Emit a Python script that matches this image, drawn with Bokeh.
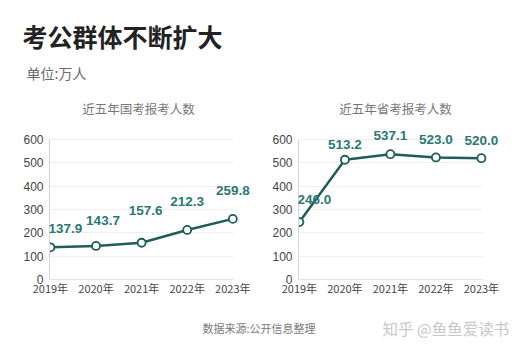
from bokeh.plotting import figure
from bokeh.models import Range1d, FixedTicker, Label, LabelSet, ColumnDataSource
from bokeh.core.properties import value
from bokeh.layouts import column, row
from bokeh.embed import file_html
from bokeh.resources import INLINE

# ---- data ----
years = [2019, 2020, 2021, 2022, 2023]
year_labels = ["2019年", "2020年", "2021年", "2022年", "2023年"]
national = [137.9, 143.7, 157.6, 212.3, 259.8]
provincial = [246.0, 513.2, 537.1, 523.0, 520.0]
y_ticks = [0, 100, 200, 300, 400, 500, 600]

title_text = "考公群体不断扩大"
unit_text = "单位:万人"
left_title = "近五年国考报考人数"
right_title = "近五年省考报考人数"
source_text = "数据来源:公开信息整理"
mark_text = "知乎 @鱼鱼爱读书"

CJK = "Noto Sans CJK SC"
NUM = "Liberation Sans"
LINE = "#1e5d5a"
LAB = "#2b7875"

W = 525
HEADER_H = 95
CHART_H = 205
FOOTER_H = 53
PX_PER_UNIT = 140 / 600.0


def blank(h):
    p = figure(width=W, height=h, x_range=Range1d(0, W), y_range=Range1d(h, 0),
               x_axis_location=None, y_axis_location=None, toolbar_location=None,
               output_backend="svg", min_border=0)
    p.outline_line_color = None
    p.grid.grid_line_color = None
    p.background_fill_color = "white"
    p.border_fill_color = "white"
    return p


header = blank(HEADER_H)
header.add_layout(Label(x=22, y=35, text=title_text, text_font=CJK, text_font_size="25px",
                        text_font_style="bold", text_color="#222222", text_baseline="middle"))
header.add_layout(Label(x=26, y=72, text=unit_text, text_font=CJK, text_font_size="14px",
                        text_color="#6a6a6a", text_baseline="middle"))


def chart(values, sub, width, bl, frame_w, px_per_year, dx, dy, sub_dx):
    top_pad, frame_h = 5, 179
    x0 = years[0] - 0.02
    x1 = x0 + frame_w / px_per_year
    p = figure(width=width, height=CHART_H, x_range=Range1d(x0, x1),
               y_range=Range1d(0, frame_h / PX_PER_UNIT), toolbar_location=None,
               output_backend="svg", min_border_left=bl, min_border_right=width - bl - frame_w,
               min_border_top=top_pad, min_border_bottom=CHART_H - top_pad - frame_h)
    p.outline_line_color = None
    p.background_fill_color = "white"
    p.border_fill_color = "white"
    p.xgrid.grid_line_color = None
    p.ygrid.grid_line_color = "#efefef"
    p.ygrid.ticker = FixedTicker(ticks=y_ticks)
    p.ygrid.cross_bounds = (x0, years[-1] + 0.02)

    p.yaxis.ticker = FixedTicker(ticks=y_ticks)
    p.yaxis.bounds = (0, 600)
    p.yaxis.axis_line_color = "#d4d4d4"
    p.yaxis.major_tick_line_color = None
    p.yaxis.minor_tick_line_color = None
    p.yaxis.major_tick_out = 0
    p.yaxis.major_tick_in = 0
    p.yaxis.minor_tick_out = 0
    p.yaxis.major_label_standoff = 6
    p.yaxis.major_label_text_font = NUM
    p.yaxis.major_label_text_font_size = "12px"
    p.yaxis.major_label_text_color = "#444444"

    p.xaxis.ticker = FixedTicker(ticks=years)
    p.xaxis.bounds = (x0, years[-1] + 0.02)
    p.xaxis.major_label_overrides = {y: l for y, l in zip(years, year_labels)}
    p.xaxis.axis_line_color = "#e4e4e4"
    p.xaxis.major_tick_line_color = None
    p.xaxis.minor_tick_line_color = None
    p.xaxis.major_tick_out = 0
    p.xaxis.major_tick_in = 0
    p.xaxis.minor_tick_out = 0
    p.xaxis.major_label_standoff = 0
    p.xaxis.major_label_text_font = CJK
    p.xaxis.major_label_text_font_size = "11px"
    p.xaxis.major_label_text_color = "#444444"

    src = ColumnDataSource(dict(x=years, y=values, t=[f"{v:.1f}" for v in values], dx=dx, dy=dy))
    p.line("x", "y", source=src, line_color=LINE, line_width=2.5)
    p.scatter("x", "y", source=src, size=8, fill_color="white", line_color=LINE, line_width=1.8)
    p.add_layout(LabelSet(x="x", y="y", text="t", source=src, x_offset="dx", y_offset="dy",
                          text_font=value(NUM), text_font_style="bold", text_font_size="13.5px",
                          text_color=LAB, text_align="center", text_baseline="middle"))
    p.add_layout(Label(x=(years[0] + years[-1]) / 2, y=600, x_offset=sub_dx, y_offset=31, text=sub,
                       text_font=CJK, text_font_size="12.5px", text_color="#777777",
                       text_align="center", text_baseline="middle"))
    return p


left = chart(national, left_title, 262, 49, 206, 45.6,
             [15, 7, 4, 0, 0], [19, 25, 32, 28, 28], -3)
right = chart(provincial, right_title, 263, 36, 202, 45.5,
              [15, 0, 0, 0, 0], [23, 15, 19, 18, 18], 5)

footer = blank(FOOTER_H)
footer.add_layout(Label(x=202, y=27, text=source_text, text_font=CJK, text_font_size="11px",
                        text_color="#7a7a7a", text_baseline="middle"))
footer.add_layout(Label(x=382, y=27, text=mark_text, text_font=CJK, text_font_size="15.5px",
                        text_color="#c8c8c8", text_baseline="middle"))

layout = column(header, row(left, right), footer)
open("out.html", "w").write(file_html(layout, INLINE))
